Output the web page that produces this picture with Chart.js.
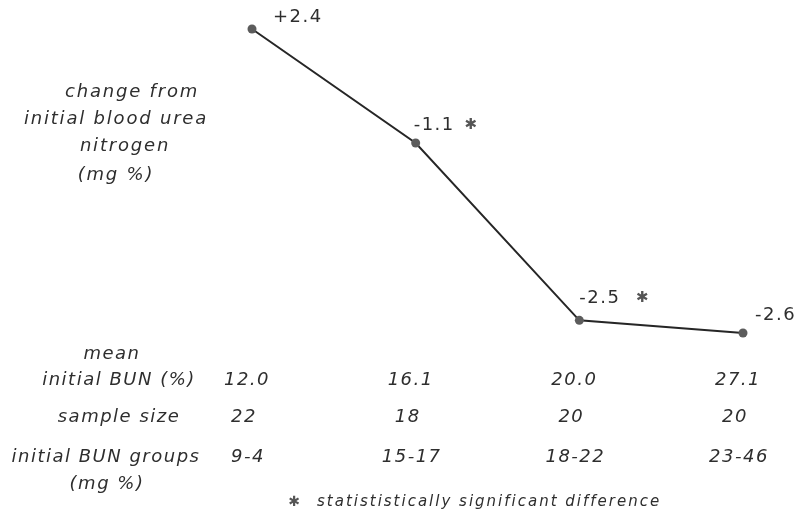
<!DOCTYPE html>
<html>
<head>
<meta charset="utf-8">
<script src="https://cdn.jsdelivr.net/npm/chart.js@4/dist/chart.umd.min.js"></script>
<style>
  html, body { margin: 0; padding: 0; background: #ffffff; }
  canvas { display: block; }
</style>
</head>
<body>
<canvas id="bun" width="804" height="516"></canvas>
<script>
// Change from initial blood urea nitrogen, by initial BUN group
const groups = ['9-4', '15-17', '18-22', '23-46'];
const bunChange = [2.4, -1.1, -2.5, -2.6];
const meanInitialBun = ['12.0', '16.1', '20.0', '27.1'];
const sampleSize = ['22', '18', '20', '20'];
const significant = [false, true, true, false];

const TEXT = '#2e2e2e';
const FONT = 'italic 18px "DejaVu Sans"';
const STAR = '\u2731';

// Linear scale whose part above a knee value is compressed, so the
// upper segment of the curve is drawn shorter than the lower one.
class KneeScale extends Chart.LinearScale {
  static id = 'knee';
  static defaults = Chart.LinearScale.defaults;
  warp(v) {
    const k = this.options.knee, r = this.options.upperRatio;
    return v > k ? k + (v - k) * r : v;
  }
  unwarp(w) {
    const k = this.options.knee, r = this.options.upperRatio;
    return w > k ? k + (w - k) / r : w;
  }
  configure() {
    super.configure();
    this._wMin = this.warp(this.min);
    this._wRange = this.warp(this.max) - this._wMin;
  }
  getPixelForValue(value) {
    if (value === null || value === undefined) return NaN;
    return this.getPixelForDecimal((this.warp(value) - this._wMin) / this._wRange);
  }
  getValueForPixel(pixel) {
    return this.unwarp(this._wMin + this.getDecimalForPixel(pixel) * this._wRange);
  }
}
Chart.register(KneeScale);

function fmt(v) {
  return (v > 0 ? '+' : '') + v.toFixed(1);
}

// Value labels beside each point, with a star for significant changes
const pointLabels = {
  id: 'pointLabels',
  afterDatasetsDraw(chart, args, opts) {
    const ctx = chart.ctx;
    const meta = chart.getDatasetMeta(0);
    ctx.save();
    ctx.font = '18px "DejaVu Sans"';
    ctx.letterSpacing = '1.5px';
    ctx.fillStyle = TEXT;
    ctx.textBaseline = 'middle';
    ctx.textAlign = 'left';
    meta.data.forEach((pt, i) => {
      const [dx, dy, sx] = opts.offsets[i];
      ctx.fillText(fmt(bunChange[i]), pt.x + dx, pt.y + dy);
      if (significant[i]) {
        ctx.save();
        ctx.letterSpacing = '0px';
        ctx.font = '15px "DejaVu Sans"';
        ctx.fillStyle = '#555555';
        ctx.textAlign = 'center';
        ctx.fillText(STAR, pt.x + sx, pt.y + dy);
        ctx.restore();
      }
    });
    ctx.restore();
  }
};

// Axis caption on the left, the table under the curve, and the footnote
const annotations = {
  id: 'annotations',
  afterDraw(chart) {
    const ctx = chart.ctx;
    const x = chart.scales.x;
    ctx.save();
    ctx.font = FONT;
    ctx.fillStyle = TEXT;
    ctx.textBaseline = 'middle';
    ctx.textAlign = 'center';

    // y-axis caption
    ctx.letterSpacing = '1.8px';
    ctx.fillText('change from', 132, 92);
    ctx.fillText('initial blood urea', 116, 119);
    ctx.fillText('nitrogen', 125, 146);
    ctx.fillText('(mg %)', 116, 175);

    // row headers
    ctx.letterSpacing = '1.5px';
    ctx.fillText('mean', 112, 354);
    ctx.fillText('initial BUN (%)', 119, 380);
    ctx.fillText('sample size', 119, 417);
    ctx.fillText('initial BUN groups', 106, 457);
    ctx.fillText('(mg %)', 107, 484);

    // table values under each group
    groups.forEach((g, i) => {
      const cx = x.getPixelForValue(i);
      ctx.fillText(meanInitialBun[i], cx - 5, 380);
      ctx.fillText(sampleSize[i], cx - 8, 417);
      ctx.fillText(g, cx - 4, 457);
    });

    // footnote
    ctx.letterSpacing = '0px';
    ctx.font = '14px "DejaVu Sans"';
    ctx.fillStyle = '#555555';
    ctx.fillText(STAR, 294, 502);
    ctx.font = 'italic 15px "DejaVu Sans"';
    ctx.letterSpacing = '2px';
    ctx.fillStyle = TEXT;
    ctx.textAlign = 'left';
    ctx.fillText('statististically significant difference', 317, 502);
    ctx.restore();
  }
};

new Chart(document.getElementById('bun'), {
  type: 'line',
  data: {
    labels: groups,
    datasets: [{
      data: bunChange,
      borderColor: '#262626',
      borderWidth: 2,
      pointRadius: 4.5,
      pointBackgroundColor: '#5c5c5c',
      pointBorderColor: '#5c5c5c',
      pointBorderWidth: 0,
      tension: 0,
      clip: false
    }]
  },
  options: {
    responsive: false,
    animation: false,
    events: [],
    layout: { padding: { top: 29, bottom: 183, left: 252, right: 61 } },
    scales: {
      x: { type: 'category', offset: false, display: false },
      y: { type: 'knee', min: -2.6, max: 2.4, knee: -1.1, upperRatio: 0.257, display: false }
    },
    plugins: {
      legend: { display: false },
      tooltip: { enabled: false },
      pointLabels: { offsets: [[21, -12, 0], [-2, -18, 55], [0, -22, 63], [12, -18, 0]] }
    }
  },
  plugins: [pointLabels, annotations]
});
</script>
</body>
</html>
